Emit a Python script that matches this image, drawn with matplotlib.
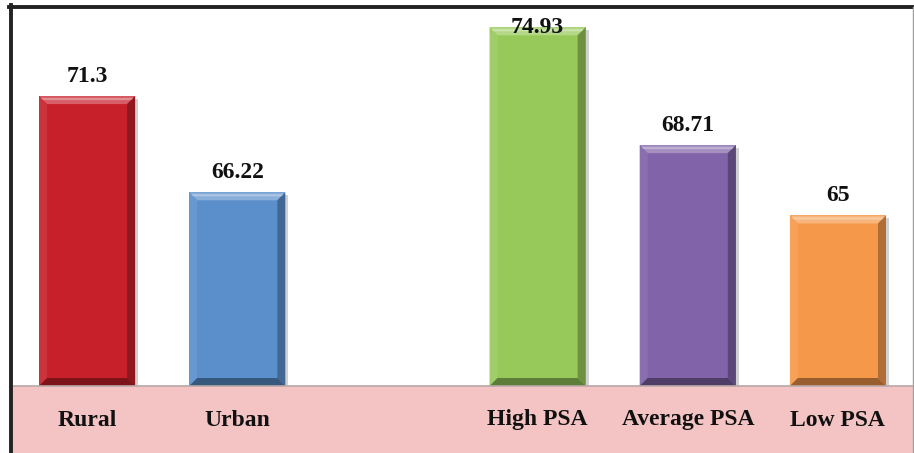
import matplotlib
matplotlib.use("Agg")
import matplotlib.pyplot as plt
from matplotlib.patches import Polygon, Rectangle
from matplotlib.lines import Line2D
from matplotlib.colors import to_rgb
import numpy as np

categories = ["Rural", "Urban", "High PSA", "Average PSA", "Low PSA"]
values = [71.3, 66.22, 74.93, 68.71, 65]
slots = [0, 1, 3, 4, 5]
colors = ["#c8202a", "#5b8fcb", "#97c95a", "#8063a8", "#f5984a"]

W, H = 914, 453
fig = plt.figure(figsize=(W / 100, H / 100), dpi=100)
fig.patch.set_facecolor("white")

# plot area (pixel geometry, top-left origin)
left_px, right_px, top_px, base_px = 12, 913, 7, 386
ax = fig.add_axes([left_px / W, (H - base_px) / H,
                   (right_px - left_px) / W, (base_px - top_px) / H])
ax.set_xlim(-0.5, 5.5)
ax.set_ylim(56, 76)
ax.axis("off")

# pink floor band holding the category labels
fig.patches.append(Rectangle((left_px / W, 0), (right_px - left_px) / W,
                             (H - base_px) / H, transform=fig.transFigure,
                             facecolor="#f4c4c4", edgecolor="none", zorder=0))
fig.lines.append(Line2D([left_px / W, right_px / W],
                        [(H - base_px) / H] * 2, transform=fig.transFigure,
                        color="#b8a8a8", lw=1.2, zorder=1))

# outer frame: heavy dark left/top edges, thin grey right edge
fig.lines.append(Line2D([10.5 / W, 10.5 / W], [0, 1 - 5 / H],
                        transform=fig.transFigure, color="#232323", lw=2.8))
fig.lines.append(Line2D([9 / W, 913 / W], [1 - 6.5 / H] * 2,
                        transform=fig.transFigure, color="#232323", lw=2.8))
fig.lines.append(Line2D([913 / W, 913 / W], [0, 1 - 6.5 / H],
                        transform=fig.transFigure, color="#a0a0a0", lw=1.0))


def shade(c, f):
    r = np.array(to_rgb(c))
    if f >= 0:
        return tuple(r + (1 - r) * f)
    return tuple(r * (1 + f))


bars = ax.bar(slots, values, width=0.64, color=colors, bottom=0,
              edgecolor="none", zorder=2)

to_data = ax.transData.inverted()
bevel = 8
for rect, col, val in zip(bars, colors, values):
    (x0, y0), (x1, y1) = ax.transData.transform(
        [(rect.get_x(), ax.get_ylim()[0]),
         (rect.get_x() + rect.get_width(), val)])
    b = bevel

    def poly(pts, fc, z=3, alpha=1.0):
        dpts = to_data.transform(pts)
        ax.add_patch(Polygon(dpts, closed=True, facecolor=fc,
                             edgecolor="none", zorder=z, alpha=alpha))

    # soft drop shadow
    poly([(x0 + 3, y0), (x1 + 3, y0), (x1 + 3, y1 - 3), (x0 + 3, y1 - 3)],
         "#000000", z=1, alpha=0.18)
    # bevel faces
    poly([(x0, y1), (x1, y1), (x1 - b, y1 - b), (x0 + b, y1 - b)],
         shade(col, 0.28))
    poly([(x0, y0), (x0, y1), (x0 + b, y1 - b), (x0 + b, y0 + b)],
         shade(col, 0.08))
    poly([(x1, y0), (x1, y1), (x1 - b, y1 - b), (x1 - b, y0 + b)],
         shade(col, -0.28))
    poly([(x0, y0), (x1, y0), (x1 - b, y0 + b), (x0 + b, y0 + b)],
         shade(col, -0.38))
    # thin highlight along the top edge
    poly([(x0 + 2, y1 - 2), (x1 - 2, y1 - 2), (x1 - 4, y1 - 4),
          (x0 + 4, y1 - 4)], shade(col, 0.5))

    # value label, kept inside the plot area
    ax_top = ax.transAxes.transform((0, 1))[1]
    ty = min(y1 + 14, ax_top - 26)
    cx = (x0 + x1) / 2
    dx, dy = to_data.transform((cx, ty))
    ax.text(dx, dy, f"{val:g}", ha="center", va="baseline",
            family="Liberation Serif", fontweight="bold", fontsize=17,
            color="#111111", zorder=5)

# category labels in the floor band
for s, cat in zip(slots, categories):
    xd = ax.transData.transform((s, 60))[0]
    fig.text(xd / W, 1 - 420 / H, cat, ha="center", va="center",
             family="Liberation Serif", fontweight="bold", fontsize=17,
             color="#111111")

fig.savefig("out.png", dpi=100)
